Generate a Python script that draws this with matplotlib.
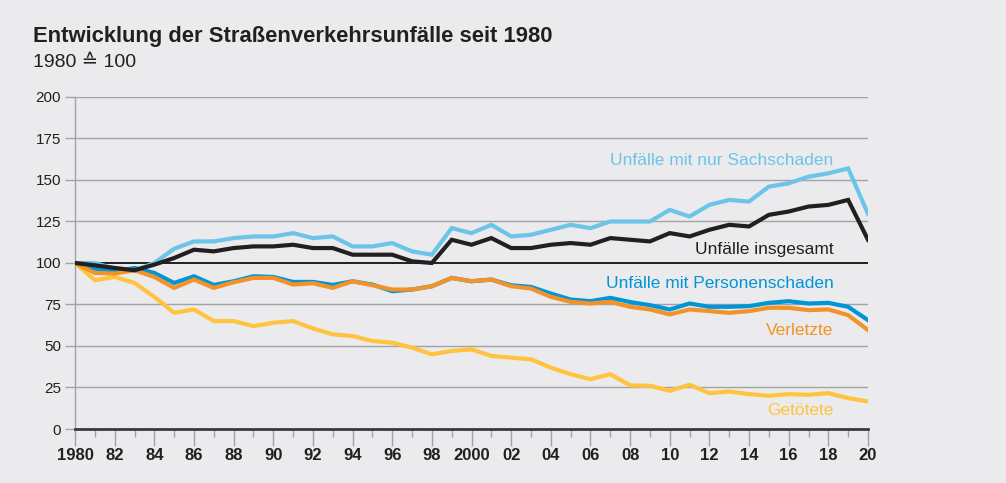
import matplotlib
matplotlib.use("Agg")
import matplotlib.pyplot as plt
from matplotlib.ticker import MultipleLocator

plt.rcParams["font.family"] = ["Liberation Sans", "DejaVu Sans"]

# Index values, 1980 = 100
years = list(range(1980, 2021))

sachschaden = [100, 100, 96.6, 95.6, 100, 108.6, 113, 113, 115, 116, 116, 118, 115, 116, 110,
               110, 112, 107, 105, 121, 118, 123, 116, 117, 120, 123, 121, 125, 125, 125,
               132, 128, 135, 138, 137, 146, 148, 152, 154, 157, 129.6]
insgesamt = [100, 98.6, 97, 95.6, 99, 103, 108, 107, 109, 110, 110, 111, 109, 109, 105,
             105, 105, 101, 100, 114, 111, 115, 109, 109, 111, 112, 111, 115, 114, 113,
             118, 116, 120, 123, 122, 129, 131, 134, 135, 138, 114]
personenschaden = [100, 96.6, 95, 97, 94, 88, 92, 86.8, 89, 92, 91.6, 88.6, 88.6, 86.8, 89,
                   87, 83, 84, 86, 91, 89, 90, 86.6, 85.6, 81.6, 78, 77, 79, 76.5, 74.6,
                   72, 75.6, 73.6, 73.6, 74, 76, 77, 75.6, 76, 73.6, 65.6]
verletzte = [100, 94, 93.6, 95.6, 91.6, 85, 90, 85, 88.4, 91, 91, 87, 87.8, 85, 89,
             86.6, 84, 84, 86, 91, 89, 90, 86, 84.6, 79.6, 76.6, 75.6, 76.6, 73.6, 72,
             69, 72, 71, 70, 71, 73, 73, 71.6, 72, 68.6, 59.6]
getoetete = [100, 89.6, 91.6, 88, 79.6, 70, 72, 65, 65, 62, 64, 65, 60.6, 57, 56,
             53, 52, 49, 45, 47, 48, 44, 43, 42, 37, 33, 30, 33, 26.3, 26,
             23, 26.6, 21.6, 22.6, 21, 20, 21, 20.6, 21.6, 18.6, 16.6]

xtickYears = list(range(1980, 2021, 2))
xtickLabels = ["1980", "82", "84", "86", "88", "90", "92", "94", "96", "98", "2000",
               "02", "04", "06", "08", "10", "12", "14", "16", "18", "20"]

bg = "#EBEBED"
gridColor = "#A3A3A5"

fig = plt.figure(figsize=(10.06, 4.83), dpi=100, facecolor=bg)
ax = fig.add_axes([0.0746, 0.1118, 0.7882, 0.6874])
ax.set_facecolor(bg)

# horizontal grid, 100 line darker
for v in range(25, 201, 25):
    if v == 100:
        ax.axhline(v, color="#231F20", linewidth=1.4, zorder=1)
    else:
        ax.axhline(v, color=gridColor, linewidth=1.0, zorder=1)

lw = 3.0
ax.plot(years, sachschaden, color="#6CC4E8", linewidth=lw, zorder=3, solid_joinstyle="miter")
ax.plot(years, getoetete, color="#FFC33F", linewidth=lw, zorder=3, solid_joinstyle="miter")
ax.plot(years, personenschaden, color="#0096D6", linewidth=lw, zorder=4, solid_joinstyle="miter")
ax.plot(years, verletzte, color="#F39229", linewidth=lw, zorder=5, solid_joinstyle="miter")
ax.plot(years, insgesamt, color="#231F20", linewidth=lw, zorder=6, solid_joinstyle="miter")

# series labels
lab = dict(ha="right", va="center", fontsize=12.5)
ax.text(2018.25, 162, "Unfälle mit nur Sachschaden", color="#6CC4E8", **lab)
ax.text(2018.25, 108, "Unfälle insgesamt", color="#231F20", **lab)
ax.text(2018.25, 87.5, "Unfälle mit Personenschaden", color="#0096D6", **lab)
ax.text(2018.25, 59.5, "Verletzte", color="#F39229", **lab)
ax.text(2018.25, 11, "Getötete", color="#FFC33F", **lab)

ax.set_xlim(1980, 2020)
ax.set_ylim(0, 200)
ax.set_yticks(range(0, 201, 25))
ax.set_xticks(xtickYears)
ax.set_xticklabels(xtickLabels, fontweight="bold", fontsize=12)
ax.xaxis.set_minor_locator(MultipleLocator(1))
ax.tick_params(axis="y", length=7, width=1.0, color=gridColor, labelsize=11, pad=3, labelcolor="#231F20")
ax.tick_params(axis="x", which="major", length=12, width=1.0, color=gridColor, pad=2, labelcolor="#231F20")
ax.tick_params(axis="x", which="minor", length=6, width=1.0, color=gridColor)

for s in ["top", "right"]:
    ax.spines[s].set_visible(False)
ax.spines["left"].set_color(gridColor)
ax.spines["left"].set_linewidth(1.0)
ax.spines["bottom"].set_color("#3A3A3C")
ax.spines["bottom"].set_linewidth(2.0)
ax.spines["bottom"].set_zorder(7)

fig.text(0.033, 0.925, "Entwicklung der Straßenverkehrsunfälle seit 1980", fontsize=15.8,
         fontweight="bold", color="#231F20", va="center", ha="left")
fig.text(0.033, 0.871, "1980 ≙ 100", fontsize=14, color="#231F20", va="center", ha="left")

fig.savefig("out.png", dpi=100, facecolor=bg)
